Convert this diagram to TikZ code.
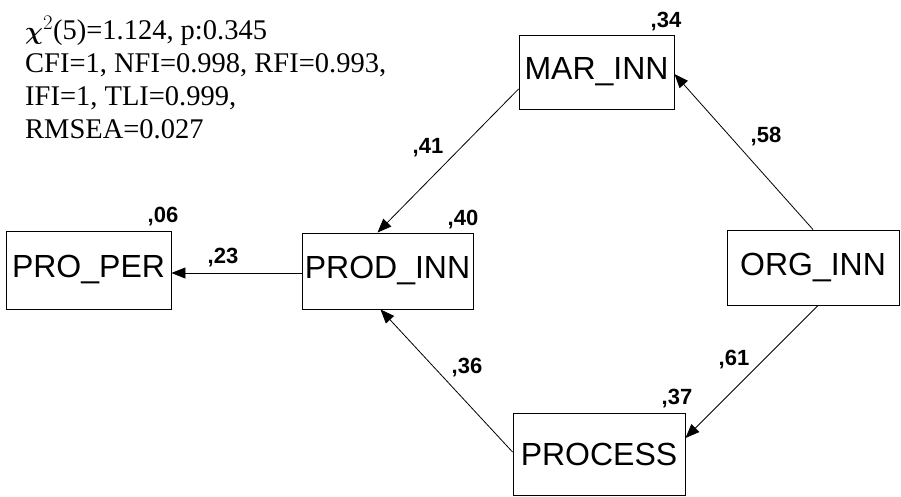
\documentclass[tikz,border=0pt]{standalone}
\usepackage{bm}
\usepackage{fontspec}
\setmainfont{Liberation Serif}
\newfontfamily\arialfont{Liberation Sans}
\usetikzlibrary{arrows.meta}

\begin{document}
\begin{tikzpicture}[
    x=1pt, y=-1pt,
    % ---------- estilos ----------
    vbox/.style={draw=black, line width=0.9pt, inner sep=0pt,
      font=\arialfont\fontsize{32}{36}\selectfont},
    coef/.style={font=\arialfont\bfseries\fontsize{22}{24}\selectfont, inner sep=0pt},
    varl/.style={coef, anchor=base east},
    fitt/.style={font=\fontsize{28.5}{33}\selectfont, inner sep=0pt,
      align=left, anchor=base west},
    arr/.style={-{Triangle[length=14pt,width=11pt]}, line width=0.8pt}
]

\useasboundingbox (0,0) rectangle (901,496);

% ====== Indices de ajuste ======
\node[fitt] (fit) at (25,138) {$\bm{\chi}^{2}$(5)=1.124, p:0.345\\
  CFI=1, NFI=0.998, RFI=0.993,\\
  IFI=1, TLI=0.999,\\
  RMSEA=0.027};

% ====== Variables ======
\node[vbox, minimum width=165pt, minimum height=78pt] (pp) at (88.5,270) {PRO\_PER};
\node[vbox, minimum width=171pt, minimum height=76pt] (pi) at (387.5,271) {PROD\_INN};
\node[vbox, minimum width=155pt, minimum height=74pt] (mi) at (596.5,72) {MAR\_INN};
\node[vbox, minimum width=172pt, minimum height=75pt] (oi) at (813,267.5) {ORG\_INN};
\node[vbox, minimum width=172pt, minimum height=82pt] (pr) at (599,454) {PROCESS};

% ====== Varianzas explicadas ======
\node[varl] (vpp) at ([shift={(7,-8)}]pp.north east) {,06};
\node[varl] (vpi) at ([shift={(5,-7)}]pi.north east) {,40};
\node[varl] (vmi) at ([shift={(7,-7)}]mi.north east) {,34};
\node[varl] (vpr) at ([shift={(7,-8)}]pr.north east) {,37};

% ====== Flechas ======
\draw[arr] ([yshift=-17pt]mi.west) -- ([xshift=-10pt]pi.north);
\draw[arr] (oi.north) -- ([yshift=-2pt]mi.east);
\draw[arr] ([xshift=5pt]oi.south) -- ([yshift=16pt]pr.east);
\draw[arr] ([yshift=2pt]pr.west) -- ([xshift=-7pt]pi.south);
\draw[arr] ([yshift=-2pt]pi.west) -- ([yshift=-2pt]pi.west -| pp.east);

% ====== Coeficientes ======
\node[coef] (c41) at (428,148) {,41};
\node[coef] (c58) at (766,137) {,58};
\node[coef] (c23) at (223,258) {,23};
\node[coef] (c36) at (467,368) {,36};
\node[coef] (c61) at (734,360) {,61};

\end{tikzpicture}
\end{document}
